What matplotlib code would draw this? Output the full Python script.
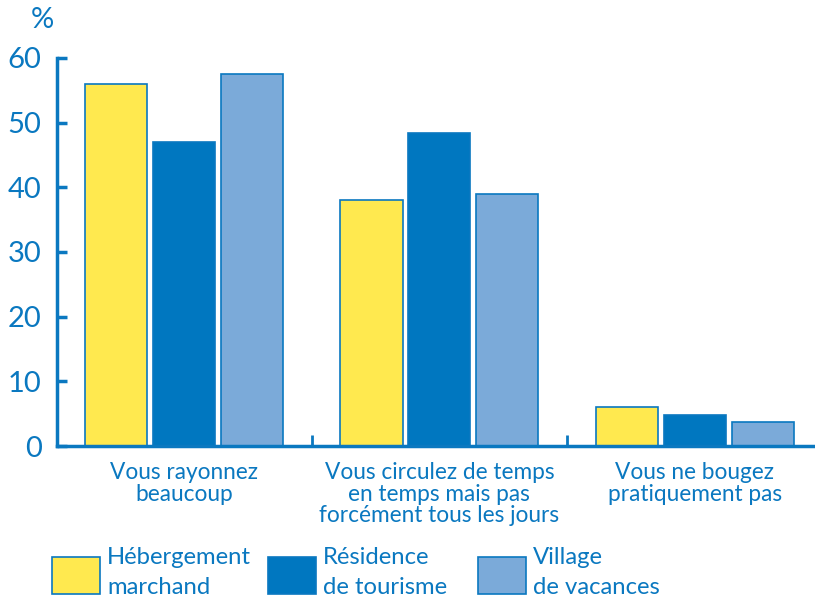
import numpy as np
import matplotlib.pyplot as plt
from matplotlib.patches import Rectangle

categories = ["Vous rayonnez\nbeaucoup",
              "Vous circulez de temps\nen temps mais pas\nforcément tous les jours",
              "Vous ne bougez\npratiquement pas"]
series_names = ["Hébergement\nmarchand", "Résidence\nde tourisme", "Village\nde vacances"]
hebergement = [56, 38, 6]
residence = [47, 48.4, 4.8]
village = [57.5, 39, 3.7]
yticks = [0, 10, 20, 30, 40, 50, 60]

blue = "#0a78c0"
fills = ["#ffe94f", "#0077c0", "#7baad9"]

plt.rcParams["font.family"] = ["Lato", "DejaVu Sans"]

fig = plt.figure(figsize=(8.15, 5.99), dpi=100)
ax = fig.add_axes([0.0699, 0.2554, 0.9276, 0.6478])

x = np.arange(len(categories))
width = 0.243
step = 0.266
for i, vals in enumerate([hebergement, residence, village]):
    ax.bar(x + (i - 1) * step, vals, width, color=fills[i],
           edgecolor=blue, linewidth=1.2, zorder=2)

ax.set_xlim(-0.497, 2.462)
ax.set_ylim(0, 60)
ax.set_yticks(yticks)
ax.tick_params(axis="y", direction="in", length=7, width=2.5, color=blue,
               labelcolor=blue, labelsize=21, pad=11)
ax.set_xticks([0.5, 1.5])
ax.set_xticklabels([])
ax.tick_params(axis="x", direction="in", length=8, width=2, color=blue)

for s in ["top", "right"]:
    ax.spines[s].set_visible(False)
for s in ["left", "bottom"]:
    ax.spines[s].set_color(blue)
    ax.spines[s].set_linewidth(2.5)

for xi, lab in zip(x, categories):
    ax.text(xi, -2.45, lab, ha="center", va="top", color=blue, fontsize=16.3,
            linespacing=1.04, transform=ax.transData)

fig.text(0.052, 0.967, "%", ha="center", va="center", color=blue, fontsize=21)

# legend
W, H = 815, 599
box_x = [52, 268, 478]
for bx, name, fc in zip(box_x, series_names, fills):
    fig.patches.append(Rectangle((bx / W, 1 - 594 / H), 48 / W, 37 / H,
                                 transform=fig.transFigure, facecolor=fc,
                                 edgecolor=blue, linewidth=1.2))
    fig.text((bx + 55) / W, 1 - 547 / H, name, ha="left", va="top", color=blue,
             fontsize=17.2, linespacing=1.53)

fig.savefig("out.png", dpi=100)
